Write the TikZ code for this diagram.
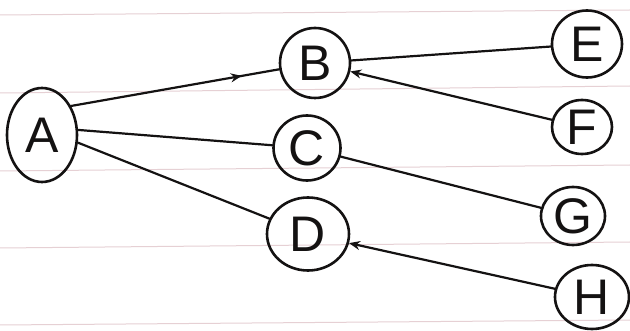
\documentclass[tikz,border=0pt]{standalone}
\usepackage{fontspec}
\setmainfont{Liberation Sans}
\usetikzlibrary{shapes.geometric,arrows.meta,decorations.markings}
\definecolor{ink}{RGB}{20,18,18}
\definecolor{ruling}{RGB}{230,208,212}
\tikzset{
  vert/.style={draw=ink, ellipse, line width=2.6pt, inner sep=0pt, text=ink,
    font=\fontsize{50}{50}\selectfont},
  edge/.style={draw=ink, line width=2.2pt, line cap=round},
  tip/.style={-{Stealth[length=11pt,width=9pt]}},
  midtip/.style={postaction={decorate}, decoration={markings,
    mark=at position 0.82 with {\arrow{Stealth[length=11pt,width=9pt]}}}},
  rule/.style={draw=ruling, line width=1pt}
}
\begin{document}
\begin{tikzpicture}[x=1pt,y=-1pt]
\useasboundingbox (0,0) rectangle (630,331);
\fill[white] (0,0) rectangle (630,331);
% ruled paper
\draw[rule] (0,15) -- (630,10);
\draw[rule] (0,93) -- (630,86);
\draw[rule] (0,171) -- (630,165);
\draw[rule] (0,248) -- (630,242);
\draw[rule] (0,325) -- (630,320);
% nodes
\node[vert, minimum width=70pt, minimum height=94pt] (A) at (42,135) {A};
\node[vert, minimum width=70pt, minimum height=70pt] (B) at (315,63) {B};
\node[vert, minimum width=67pt, minimum height=65pt] (C) at (307,148) {C};
\node[vert, minimum width=82pt, minimum height=73pt] (D) at (308,234) {D};
\node[vert, minimum width=70pt, minimum height=67pt] (E) at (587,44) {E};
\node[vert, minimum width=60pt, minimum height=54pt] (F) at (582,127) {F};
\node[vert, minimum width=64pt, minimum height=58pt] (G) at (573,216) {G};
\node[vert, minimum width=74pt, minimum height=64pt] (H) at (592,297) {H};
% edges
\draw[edge, midtip] (A.45) -- (B);
\draw[edge] (A.8) -- (C);
\draw[edge] (A.-12) -- (D);
\draw[edge] (B) -- (E);
\draw[edge, tip] (F) -- (B);
\draw[edge] (C) -- (G);
\draw[edge, tip] (H) -- (D);
\end{tikzpicture}
\end{document}
